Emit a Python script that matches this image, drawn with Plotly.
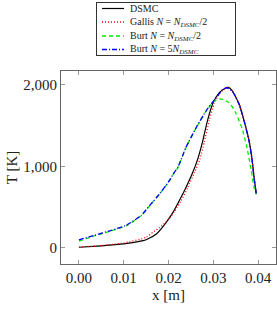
import plotly.graph_objects as go

# ---- data ----
x_dsmc = [0.0, 0.005, 0.010, 0.0143, 0.0150, 0.0173, 0.0195, 0.0210, 0.0224, 0.0239, 0.0254,
          0.0265, 0.0276, 0.0287, 0.0299, 0.0313, 0.0328, 0.0334, 0.0343, 0.0358, 0.0369,
          0.0380, 0.0387, 0.0391, 0.0396]
t_dsmc = [8, 25, 49, 89, 100, 171, 313, 435, 577, 740, 923,
          1085, 1300, 1560, 1770, 1898, 1959, 1967, 1919, 1756, 1553,
          1309, 1065, 862, 659]

x_gallis = [0.0, 0.005, 0.010, 0.0150, 0.0165, 0.0180, 0.0195, 0.0212, 0.0228, 0.0243, 0.0258,
            0.0270, 0.0280, 0.0291, 0.0302, 0.0315, 0.0328, 0.0334, 0.0343, 0.0358, 0.0369,
            0.0380, 0.0387, 0.0391, 0.0396]
t_gallis = [10, 28, 60, 130, 191, 250, 320, 435, 577, 740, 923,
            1085, 1300, 1560, 1770, 1895, 1962, 1970, 1922, 1760, 1555,
            1310, 1068, 865, 662]

x_burt_half = [0.0, 0.0032, 0.0069, 0.0106, 0.0139, 0.0158, 0.0180, 0.0202, 0.0213, 0.0221,
               0.0239, 0.0262, 0.0284, 0.0302, 0.0317, 0.0336, 0.0350, 0.0365, 0.0376,
               0.0385, 0.0391, 0.0396]
t_burt_half = [82, 143, 203, 272, 394, 516, 659, 821, 923, 984,
               1228, 1472, 1675, 1797, 1825, 1776, 1655, 1451, 1207,
               943, 740, 659]

x_burt_5 = [0.0, 0.0032, 0.0069, 0.0106, 0.0139, 0.0158, 0.0180, 0.0202, 0.0213, 0.0221,
            0.0239, 0.0262, 0.0284, 0.0302, 0.0321, 0.0330, 0.0343, 0.0358, 0.0369,
            0.0380, 0.0387, 0.0391, 0.0396]
t_burt_5 = [98, 150, 210, 278, 398, 520, 662, 826, 926, 988,
            1232, 1476, 1680, 1810, 1939, 1962, 1915, 1752, 1550,
            1305, 1062, 860, 659]

x_ticks = [0.0, 0.01, 0.02, 0.03, 0.04]
x_ticklabels = ["0.00", "0.01", "0.02", "0.03", "0.04"]
y_ticks = [0, 1000, 2000]
y_ticklabels = ["0", "1,000", "2,000"]

names = [
    "DSMC",
    "Gallis <i>N</i> = <i>N</i><sub><i>DSMC</i></sub>/2",
    "Burt <i>N</i> = <i>N</i><sub><i>DSMC</i></sub>/2",
    "Burt <i>N</i> = 5<i>N</i><sub><i>DSMC</i></sub>",
]

FONT = "Liberation Serif"
W, H = 277, 311
ML, MR, MT, MB = 61, 1, 71, 47
PW, PH = W - ML - MR, H - MT - MB

styles = [
    dict(color="black", width=1.2),
    dict(color="#ff0000", width=1.3, dash="1px,2px"),
    dict(color="#00ee00", width=1.3, dash="4px,3px"),
    dict(color="#0000ff", width=1.3, dash="5px,2px,1px,2px"),
]
series = [(x_dsmc, t_dsmc), (x_gallis, t_gallis), (x_burt_half, t_burt_half), (x_burt_5, t_burt_5)]

fig = go.Figure()
for (xs, ts), nm, st in zip(series, names, styles):
    fig.add_trace(go.Scatter(x=xs, y=ts, mode="lines", name=nm, showlegend=False,
                             line=dict(shape="spline", smoothing=0.5, **st)))


def px_x(p):
    return (p - ML) / PW


def px_y(p):
    return (H - MB - p) / PH


# legend frame (an empty bordered annotation) drawn above the axes
annotations = [dict(text=" ", xref="paper", yref="paper",
                    x=px_x(165.5), y=px_y(28.5), xanchor="center", yanchor="middle",
                    width=138, height=52, borderpad=0, showarrow=False,
                    bordercolor="#333333", borderwidth=1,
                    font=dict(family=FONT, size=10))]
shapes = []
row_y = [8.5, 22, 36, 49.5]
for ry, nm, st in zip(row_y, names, styles):
    shapes.append(dict(type="line", xref="paper", yref="paper",
                       x0=px_x(102), x1=px_x(124), y0=px_y(ry), y1=px_y(ry),
                       line=st, layer="above"))
    annotations.append(dict(text=nm, xref="paper", yref="paper", x=px_x(128), y=px_y(ry),
                            xanchor="left", yanchor="middle", showarrow=False,
                            font=dict(family=FONT, size=10, color="#222")))

axis_common = dict(
    showline=True, linecolor="#666666", linewidth=1, mirror="ticks",
    ticks="inside", ticklen=4, tickcolor="#999999", tickwidth=1,
    showgrid=False, zeroline=False, automargin=False,
    tickfont=dict(family=FONT, size=15, color="#222"),
)

fig.update_layout(
    width=W, height=H,
    margin=dict(l=ML, r=MR, t=MT, b=MB, autoexpand=False),
    plot_bgcolor="white", paper_bgcolor="white",
    font=dict(family=FONT, size=15, color="#222"),
    xaxis=dict(range=[-0.004, 0.044], tickvals=x_ticks, ticktext=x_ticklabels,
               title=dict(text="x [m]", font=dict(family=FONT, size=15), standoff=4),
               **axis_common),
    yaxis=dict(range=[-197, 2167], tickvals=y_ticks, ticktext=y_ticklabels,
               title=dict(text="T [K]", font=dict(family=FONT, size=15), standoff=2),
               **axis_common),
    shapes=shapes,
    annotations=annotations,
    showlegend=False,
)

fig.write_html("out.html", config={"displayModeBar": False},
               post_script="document.body.style.margin='0';document.body.style.padding='0';")
